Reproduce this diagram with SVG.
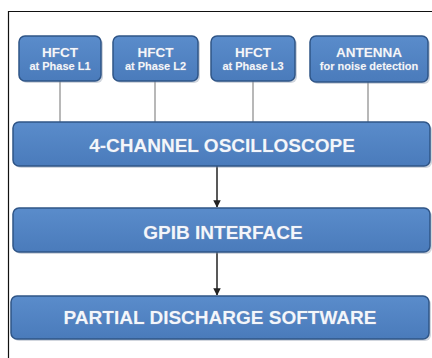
<svg xmlns="http://www.w3.org/2000/svg" width="432" height="358" viewBox="0 0 432 358">
<defs>
<style>
.box{fill:url(#g);stroke:#2f5587;stroke-width:1.5}
.sh{fill:#7a8aa0;opacity:0.35}
.t{font-family:"Liberation Sans",Arial,sans-serif;font-weight:bold;fill:#f3f6fb;stroke:#6f8fbd;stroke-width:0.8;paint-order:stroke;text-anchor:middle}
.big{font-size:19px}
.h{font-size:13.5px}
.s{font-size:11px}
.wire{stroke:#a0a0a0;stroke-width:1.5;fill:none}
.arr{stroke:#222;stroke-width:1.5;fill:none;marker-end:url(#ah)}
</style>
<linearGradient id="g" x1="0" y1="0" x2="0" y2="1">
<stop offset="0" stop-color="#5a8ccb"/>
<stop offset="1" stop-color="#4a7bbb"/>
</linearGradient>
<marker id="ah" viewBox="0 0 10 10" refX="9" refY="5" markerWidth="5" markerHeight="5" orient="auto">
<path d="M0,0 L10,5 L0,10 z" fill="#222"/>
</marker>
</defs>
<rect width="432" height="358" fill="#fff"/>
<path d="M8.5,358 V11.5 H432" fill="none" stroke="#111" stroke-width="1.2"/>
<g id="connectors">
<line class="wire" x1="60" y1="81" x2="60" y2="122"/>
<line class="wire" x1="155" y1="81" x2="155" y2="122"/>
<line class="wire" x1="253" y1="81" x2="253" y2="122"/>
<line class="wire" x1="368" y1="82" x2="368" y2="122"/>
<line class="arr" x1="217" y1="166" x2="217" y2="207"/>
<line class="arr" x1="217" y1="252" x2="217" y2="295"/>
</g>
<g id="hfct1">
<rect class="sh" x="21" y="38" width="82" height="45" rx="6"/>
<rect class="box" x="19" y="36" width="82" height="45" rx="6"/>
<text class="t h" x="60" y="57">HFCT</text>
<text class="t s" x="60" y="70">at Phase L1</text>
</g>
<g id="hfct2">
<rect class="sh" x="115" y="38" width="85" height="45" rx="6"/>
<rect class="box" x="113" y="36" width="85" height="45" rx="6"/>
<text class="t h" x="155.5" y="57">HFCT</text>
<text class="t s" x="155.5" y="70">at Phase L2</text>
</g>
<g id="hfct3">
<rect class="sh" x="213" y="38" width="84" height="45" rx="6"/>
<rect class="box" x="211" y="36" width="84" height="45" rx="6"/>
<text class="t h" x="253" y="57">HFCT</text>
<text class="t s" x="253" y="70">at Phase L3</text>
</g>
<g id="antenna">
<rect class="sh" x="312" y="38" width="118" height="46" rx="6"/>
<rect class="box" x="310" y="36" width="118" height="46" rx="6"/>
<text class="t h" x="369" y="57">ANTENNA</text>
<text class="t s" x="369" y="70">for noise detection</text>
</g>
<g id="oscilloscope">
<rect class="sh" x="15" y="124" width="417" height="44" rx="6"/>
<rect class="box" x="13" y="122" width="417" height="44" rx="6"/>
<text class="t big" x="222" y="152">4-CHANNEL OSCILLOSCOPE</text>
</g>
<g id="gpib">
<rect class="sh" x="15" y="210" width="417" height="44" rx="6"/>
<rect class="box" x="13" y="208" width="417" height="44" rx="6"/>
<text class="t big" x="223" y="239">GPIB INTERFACE</text>
</g>
<g id="software">
<rect class="sh" x="13" y="298" width="418" height="43" rx="6"/>
<rect class="box" x="11" y="296" width="418" height="43" rx="6"/>
<text class="t big" x="220" y="324">PARTIAL DISCHARGE SOFTWARE</text>
</g>
</svg>
